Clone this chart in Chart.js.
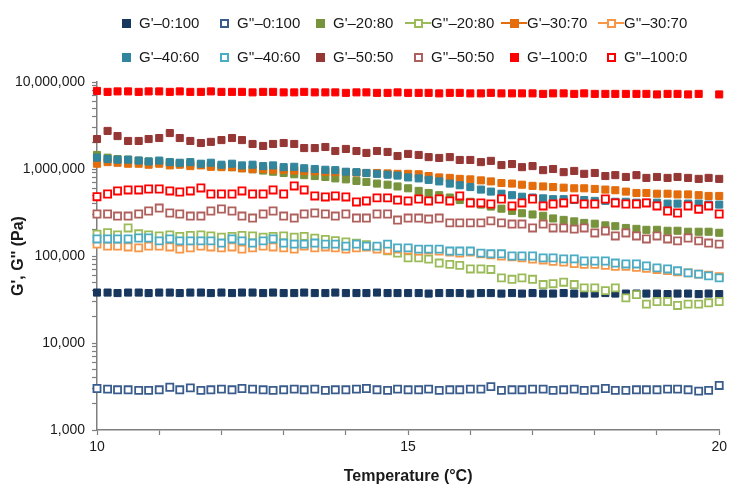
<!DOCTYPE html>
<html>
<head>
<meta charset="utf-8">
<script src="https://cdn.jsdelivr.net/npm/chart.js@4.4.1/dist/chart.umd.min.js"></script>
<style>
    body { margin: 0; background: #fff; }
    #wrap { position: relative; width: 731px; height: 486px; }
    #legend { position: absolute; left: 0; top: 0; width: 731px; height: 80px;
              font: 15px "Liberation Sans", Arial, sans-serif; color: #1a1a1a; }
    .lg-text { position: absolute; white-space: nowrap; line-height: 18px; }
    .lg-box { position: absolute; box-sizing: border-box; width: 9px; height: 9px; }
    .lg-line { position: absolute; height: 2px; width: 26px; }
</style>
</head>
<body>
<div id="wrap">
    <canvas id="chart" width="731" height="486"></canvas>
    <div id="legend"></div>
</div>
<script>
// Temperature (°C)
const temperature = [
    10, 10.17, 10.33, 10.5, 10.67, 10.83, 11, 11.17, 11.33, 11.5,
    11.67, 11.83, 12, 12.17, 12.33, 12.5, 12.67, 12.83, 13, 13.17,
    13.33, 13.5, 13.67, 13.83, 14, 14.17, 14.33, 14.5, 14.67, 14.83,
    15, 15.17, 15.33, 15.5, 15.67, 15.83, 16, 16.17, 16.33, 16.5,
    16.67, 16.83, 17, 17.17, 17.33, 17.5, 17.67, 17.83, 18, 18.17,
    18.33, 18.5, 18.67, 18.83, 19, 19.17, 19.33, 19.5, 19.67, 19.83, 20
];

const xTickLabels = [10, 15, 20];
const yTickLabels = [1000, 10000, 100000, 1000000, 10000000];

// G' / G'' (Pa), одна серия на массив
const gp_0_100 = [
    38000, 38000, 37500, 38000, 38000, 37500, 38000, 38000, 37500, 38000,
    38000, 37500, 38000, 37500, 38000, 38000, 37500, 38000, 37500, 37500,
    38000, 37500, 37500, 38000, 37500, 37500, 37500, 38000, 37500, 37500,
    37500, 37500, 37000, 37500, 37500, 37500, 37000, 37500, 37500, 37000,
    37500, 37000, 37500, 37000, 37000, 37500, 37000, 37000, 37000, 37500,
    37000, 37000, 37000, 37000, 37000, 36500, 37000, 37000, 36500, 37000, 36500
];
const gpp_0_100 = [
    3000, 2950, 2900, 2900, 2850, 2850, 2900, 3100, 2900, 3050,
    2850, 2900, 2950, 2900, 3000, 2950, 2900, 2850, 2900, 2950,
    2900, 2950, 2850, 2900, 2900, 2950, 3000, 2900, 2850, 2950,
    2900, 2900, 2950, 2850, 2900, 2900, 2950, 2950, 3150, 2850,
    2900, 2900, 2950, 2950, 2850, 2900, 2950, 2850, 2900, 3000,
    2850, 2850, 2900, 2900, 2900, 2950, 2950, 2900, 2800, 2850, 3250
];
const gp_20_80 = [
    1450000, 1350000, 1300000, 1280000, 1250000, 1220000, 1200000, 1180000, 1160000, 1140000,
    1120000, 1100000, 1070000, 1050000, 1020000, 990000, 960000, 930000, 900000, 870000,
    850000, 830000, 810000, 780000, 760000, 730000, 710000, 680000, 660000, 630000,
    600000, 560000, 530000, 500000, 470000, 440000, 420000, 390000, 370000, 350000,
    330000, 310000, 300000, 290000, 270000, 260000, 250000, 240000, 235000, 225000,
    220000, 210000, 205000, 200000, 200000, 195000, 195000, 190000, 190000, 190000, 185000
];
const gpp_20_80 = [
    178000, 185000, 175000, 210000, 180000, 175000, 170000, 175000, 168000, 172000,
    175000, 170000, 165000, 168000, 172000, 170000, 165000, 168000, 170000, 165000,
    168000, 160000, 155000, 150000, 145000, 140000, 135000, 125000, 115000, 108000,
    95000, 95000, 92000, 83000, 80000, 78000, 71000, 71000, 70000, 56000,
    54000, 56000, 54000, 47000, 48000, 50000, 47000, 43000, 43000, 40000,
    43000, 33000, 36000, 28000, 30000, 30000, 27000, 28000, 28000, 29000, 30000
];
const gp_30_70 = [
    1150000, 1200000, 1180000, 1150000, 1150000, 1120000, 1150000, 1100000, 1120000, 1080000,
    1100000, 1060000, 1050000, 1050000, 1020000, 1000000, 1000000, 980000, 980000, 960000,
    950000, 940000, 930000, 920000, 920000, 910000, 900000, 900000, 890000, 880000,
    880000, 870000, 830000, 800000, 790000, 770000, 760000, 740000, 720000, 690000,
    680000, 660000, 640000, 630000, 620000, 610000, 600000, 600000, 590000, 580000,
    570000, 550000, 530000, 530000, 520000, 520000, 510000, 510000, 500000, 490000, 490000
];
const gpp_30_70 = [
    137000, 130000, 130000, 127000, 124000, 130000, 130000, 127000, 120000, 124000,
    130000, 127000, 124000, 127000, 120000, 124000, 130000, 127000, 124000, 120000,
    130000, 124000, 127000, 124000, 120000, 124000, 127000, 120000, 117000, 120000,
    117000, 114000, 117000, 114000, 111000, 108000, 111000, 106000, 103000, 100000,
    98000, 95000, 92000, 90000, 87000, 85000, 82000, 80000, 80000, 78000,
    76000, 76000, 74000, 72000, 70000, 68000, 66000, 64000, 62000, 60000, 58000
];
const gp_40_60 = [
    1350000, 1300000, 1280000, 1280000, 1250000, 1220000, 1250000, 1200000, 1180000, 1200000,
    1150000, 1180000, 1120000, 1150000, 1100000, 1120000, 1080000, 1100000, 1050000, 1060000,
    1020000, 1000000, 980000, 970000, 930000, 920000, 900000, 880000, 860000, 840000,
    800000, 780000, 750000, 720000, 680000, 650000, 620000, 580000, 550000, 520000,
    500000, 480000, 470000, 460000, 450000, 450000, 440000, 440000, 430000, 430000,
    420000, 420000, 410000, 410000, 410000, 400000, 400000, 400000, 400000, 390000, 390000
];
const gpp_40_60 = [
    157000, 157000, 157000, 157000, 161000, 161000, 149000, 157000, 149000, 149000,
    149000, 149000, 141000, 157000, 149000, 141000, 149000, 157000, 141000, 137000,
    137000, 141000, 137000, 137000, 130000, 137000, 130000, 130000, 137000, 124000,
    124000, 120000, 120000, 120000, 114000, 114000, 114000, 108000, 106000, 106000,
    100000, 100000, 100000, 95000, 95000, 92600, 92600, 87600, 87600, 87600,
    83000, 81000, 81000, 77000, 73000, 71000, 67600, 64000, 62000, 59000, 56000
];
const gp_50_50 = [
    2210000, 2740000, 2390000, 2100000, 2100000, 2210000, 2270000, 2590000, 2270000, 2100000,
    1990000, 2050000, 2150000, 2270000, 2150000, 1940000, 1840000, 1940000, 1990000, 1940000,
    1740000, 1740000, 1790000, 1610000, 1700000, 1610000, 1530000, 1610000, 1570000, 1410000,
    1490000, 1450000, 1370000, 1340000, 1370000, 1270000, 1270000, 1200000, 1240000, 1110000,
    1140000, 1050000, 1080000, 970000, 1000000, 920000, 950000, 880000, 900000, 830000,
    850000, 810000, 850000, 790000, 810000, 790000, 810000, 790000, 770000, 790000, 770000
];
const gpp_50_50 = [
    304000, 304000, 288000, 288000, 304000, 329000, 356000, 312000, 304000, 288000,
    288000, 329000, 347000, 329000, 288000, 273000, 304000, 329000, 288000, 273000,
    304000, 312000, 304000, 288000, 304000, 273000, 273000, 304000, 304000, 259000,
    273000, 273000, 266000, 273000, 240000, 240000, 240000, 240000, 253000, 240000,
    233000, 233000, 210000, 233000, 210000, 210000, 204000, 210000, 184000, 194000,
    170000, 184000, 170000, 157000, 170000, 157000, 149000, 161000, 149000, 141000, 137000
];
const gp_100_0 = [
    7900000, 7700000, 7800000, 7800000, 7700000, 7800000, 7800000, 7700000, 7800000, 7700000,
    7700000, 7800000, 7700000, 7700000, 7700000, 7600000, 7700000, 7700000, 7600000, 7600000,
    7700000, 7600000, 7600000, 7600000, 7500000, 7600000, 7600000, 7500000, 7500000, 7600000,
    7500000, 7500000, 7500000, 7400000, 7500000, 7500000, 7400000, 7400000, 7500000, 7400000,
    7400000, 7400000, 7400000, 7300000, 7400000, 7400000, 7300000, 7400000, 7300000, 7300000,
    7300000, 7300000, 7300000, 7300000, 7200000, 7300000, 7300000, 7200000, 7300000, null, 7200000
];
const gpp_100_0 = [
    480000, 516000, 559000, 574000, 574000, 589000, 589000, 559000, 544000, 559000,
    605000, 516000, 516000, 516000, 559000, 516000, 516000, 574000, 516000, 638000,
    574000, 490000, 477000, 490000, 477000, 418000, 429000, 465000, 465000, 440000,
    429000, 452000, 429000, 452000, 429000, 490000, 407000, 407000, 396000, 452000,
    376000, 407000, 452000, 376000, 396000, 407000, 452000, 396000, 396000, 452000,
    407000, 396000, 396000, 407000, 376000, 329000, 312000, 376000, 345000, 376000, 304000
];

const seriesNames = [
    "G'–0:100", "G''–0:100", "G'–20:80", "G''–20:80", "G'–30:70", "G''–30:70",
    "G'–40:60", "G''–40:60", "G'–50:50", "G''–50:50", "G'–100:0", "G''–100:0"
];
const seriesValues = [
    gp_0_100, gpp_0_100, gp_20_80, gpp_20_80, gp_30_70, gpp_30_70,
    gp_40_60, gpp_40_60, gp_50_50, gpp_50_50, gp_100_0, gpp_100_0
];
const seriesColors = [
    '#17375E', '#3A5C8C', '#77933C', '#9BBB59', '#E46C0A', '#F79646',
    '#31859C', '#4BACC6', '#953735', '#B0605C', '#FF0000', '#FF0000'
];
const seriesFilled = [true, false, true, false, true, false, true, false, true, false, true, false];
// в легенде Excel у трёх серий нарисована линия
const legendLine = [false, false, false, true, true, true, false, false, false, false, false, false];

// Легенда (HTML, 2 ряда по 6)
const buildLegend = () => {
    const legend = document.getElementById('legend');
    const colText = [139, 237, 333, 431, 527, 624];
    const rowY = [23, 57];
    seriesNames.forEach((name, i) => {
        const tx = colText[i % 6];
        const cy = rowY[Math.floor(i / 6)];
        const cx = tx - 13;
        const color = seriesColors[i];

        if (legendLine[i]) {
            const line = document.createElement('div');
            line.className = 'lg-line';
            line.style.left = (cx - 13) + 'px';
            line.style.top = (cy - 1) + 'px';
            line.style.background = color;
            legend.appendChild(line);
        }

        const box = document.createElement('div');
        box.className = 'lg-box';
        box.style.left = (cx - 4.5) + 'px';
        box.style.top = (cy - 4.5) + 'px';
        if (seriesFilled[i]) {
            box.style.background = color;
        } else {
            box.style.background = '#fff';
            box.style.border = '2px solid ' + color;
        }
        legend.appendChild(box);

        const text = document.createElement('div');
        text.className = 'lg-text';
        text.style.left = tx + 'px';
        text.style.top = (cy - 9) + 'px';
        text.textContent = name;
        legend.appendChild(text);
    });
};

Chart.defaults.font.family = '"Liberation Sans", Arial, sans-serif';
Chart.defaults.color = '#1a1a1a';

const axisColor = '#7f7f7f';

const datasets = seriesValues.map((values, i) => ({
    label: seriesNames[i],
    data: temperature.map((t, k) => ({ x: t, y: values[k] })),
    showLine: false,
    pointStyle: 'rect',
    pointRadius: 5,
    pointHoverRadius: 5,
    pointBorderWidth: seriesFilled[i] ? 1 : 1.8,
    pointBorderColor: seriesColors[i],
    pointBackgroundColor: seriesFilled[i] ? seriesColors[i] : '#ffffff',
    clip: false,
    order: seriesValues.length - 1 - i // последние серии поверх
}));

const createChart = () => {
    const canvas = document.getElementById('chart');
    new Chart(canvas, {
        type: 'scatter',
        data: { datasets },
        options: {
            responsive: false,
            animation: false,
            devicePixelRatio: 1,
            layout: { padding: { top: 82, right: 9, bottom: 0, left: 0 } },
            plugins: {
                legend: { display: false },
                tooltip: { enabled: false }
            },
            scales: {
                x: {
                    type: 'linear',
                    min: 10,
                    max: 20,
                    afterFit: (scale) => { scale.height = 56; },
                    border: { display: true, color: axisColor, width: 1.5 },
                    grid: {
                        drawOnChartArea: false,
                        drawTicks: true,
                        tickLength: 5,
                        tickColor: axisColor,
                        tickWidth: 1.2
                    },
                    ticks: {
                        stepSize: 1,
                        autoSkip: false,
                        maxRotation: 0,
                        padding: 4,
                        color: '#1a1a1a',
                        font: { size: 14 },
                        callback: (v) => xTickLabels.includes(v) ? String(v) : ''
                    },
                    title: {
                        display: true,
                        text: 'Temperature (°C)',
                        color: '#1a1a1a',
                        font: { size: 16, weight: 'bold' },
                        padding: { top: 0, bottom: 0 }
                    }
                },
                y: {
                    type: 'logarithmic',
                    min: 1000,
                    max: 10000000,
                    afterFit: (scale) => { scale.width = 97; },
                    afterBuildTicks: (scale) => {
                        // только 1..9 × 10^n, без 1.5 × 10^n
                        scale.ticks = scale.ticks.filter(t => {
                            const m = t.value / Math.pow(10, Math.floor(Math.log10(t.value) + 1e-9));
                            return Math.abs(m - Math.round(m)) < 1e-6;
                        });
                    },
                    border: { display: true, color: axisColor, width: 1.5 },
                    grid: {
                        drawOnChartArea: false,
                        drawTicks: true,
                        tickLength: 5,
                        tickColor: axisColor,
                        tickWidth: 1.2
                    },
                    ticks: {
                        autoSkip: false,
                        padding: 7,
                        color: '#1a1a1a',
                        font: { size: 14 },
                        callback: (v) => {
                            const hit = yTickLabels.find(t => Math.abs(t - v) < 1e-6 * t);
                            return hit ? hit.toLocaleString('en-US') : '';
                        }
                    },
                    title: {
                        display: true,
                        text: "G', G'' (Pa)",
                        color: '#1a1a1a',
                        font: { size: 16, weight: 'bold' },
                        padding: { top: 9, bottom: 0 }
                    }
                }
            }
        }
    });
};

buildLegend();
createChart();
</script>
</body>
</html>
